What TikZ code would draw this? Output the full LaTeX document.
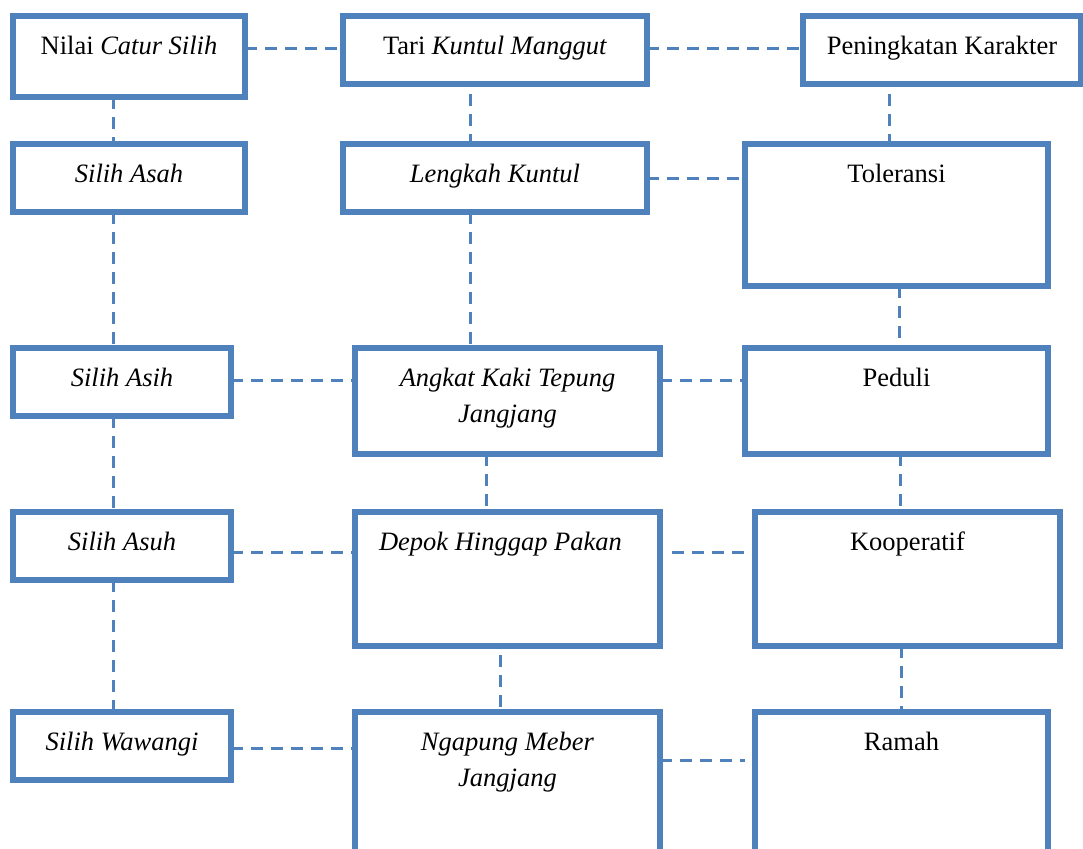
\documentclass[tikz,border=0pt]{standalone}
\usepackage{fontspec}
\setmainfont{Liberation Serif}
\usetikzlibrary{positioning,calc}
\definecolor{KBlue}{RGB}{79,129,189}
\tikzset{
	box/.style 2 args={draw=KBlue,line width=3pt,fill=white,anchor=north west,inner sep=0pt,
		outer sep=0pt,minimum width=#1,minimum height=#2},
	txt/.style={font=\fontsize{13.25pt}{18.3pt}\selectfont,align=center,inner sep=0pt,anchor=base},
	link/.style={draw=KBlue,line width=1.5pt,dash pattern=on 6pt off 4pt},
}
\begin{document}
\begin{tikzpicture}[x=0.5pt,y=-0.5pt]
	\useasboundingbox (0,0) rectangle (1083,848);
	\node[box={116pt}{40.5pt}] (nilai) at (13,16) {};
	\node[box={152pt}{34pt}] (tari) at (343,16) {};
	\node[box={139pt}{34pt}] (karakter) at (803,16) {};
	\node[box={116pt}{34pt}] (asah) at (13,144) {};
	\node[box={152pt}{34pt}] (lengkah) at (343,144) {};
	\node[box={151.5pt}{71pt}] (toleransi) at (745,144) {};
	\node[box={109pt}{34pt}] (asih) at (13,348) {};
	\node[box={152.5pt}{53pt}] (angkat) at (355,348) {};
	\node[box={151.5pt}{53pt}] (peduli) at (745,348) {};
	\node[box={109pt}{34pt}] (asuh) at (13,512) {};
	\node[box={152.5pt}{67pt}] (depok) at (355,512) {};
	\node[box={152.5pt}{67pt}] (kooperatif) at (755,512) {};
	\node[box={109pt}{34pt}] (wawangi) at (13,712) {};
	\node[box={152.5pt}{80pt}] (ngapung) at (355,712) {};
	\node[box={146.5pt}{80pt}] (ramah) at (755,712) {};
	\node[txt] (nilai-t) at ([yshift=-19pt]nilai.north) {Nilai \textit{Catur Silih}};
	\node[txt] (tari-t) at ([yshift=-19pt]tari.north) {Tari \textit{Kuntul Manggut}};
	\node[txt] (karakter-t) at ([yshift=-19pt]karakter.north) {Peningkatan Karakter};
	\node[txt] (asah-t) at ([yshift=-19pt]asah.north) {\textit{Silih Asah}};
	\node[txt] (lengkah-t) at ([yshift=-19pt]lengkah.north) {\textit{Lengkah Kuntul}};
	\node[txt] (toleransi-t) at ([yshift=-19pt]toleransi.north) {Toleransi};
	\node[txt] (asih-t) at ([yshift=-19pt]asih.north) {\textit{Silih Asih}};
	\node[txt] (angkat-t) at ([yshift=-37.3pt]angkat.north) {\textit{Angkat Kaki Tepung}\\\textit{Jangjang}};
	\node[txt] (peduli-t) at ([yshift=-19pt]peduli.north) {Peduli};
	\node[txt] (asuh-t) at ([yshift=-19pt]asuh.north) {\textit{Silih Asuh}};
	\node[txt] (depok-t) at ([xshift=-3.5pt,yshift=-19pt]depok.north) {\textit{Depok Hinggap Pakan}};
	\node[txt] (kooperatif-t) at ([yshift=-19pt]kooperatif.north) {Kooperatif};
	\node[txt] (wawangi-t) at ([yshift=-19pt]wawangi.north) {\textit{Silih Wawangi}};
	\node[txt] (ngapung-t) at ([yshift=-37.3pt]ngapung.north) {\textit{Ngapung Meber}\\\textit{Jangjang}};
	\node[txt] (ramah-t) at ([yshift=-19pt]ramah.north) {Ramah};
	\draw[link] (nilai.east |- 0,48) -- (tari.west |- 0,48);
	\draw[link] (tari.east |- 0,48) -- (karakter.west |- 0,48);
	\draw[link] (113,0 |- nilai.south) -- (113,0 |- asah.north);
	\draw[link,shorten <=5pt] (470,0 |- tari.south) -- (470,0 |- lengkah.north);
	\draw[link,shorten <=5pt] (889,0 |- karakter.south) -- (889,0 |- toleransi.north);
	\draw[link] (lengkah.east |- 0,178) -- (toleransi.west |- 0,178);
	\draw[link] (113,0 |- asah.south) -- (113,0 |- asih.north);
	\draw[link] (470,0 |- lengkah.south) -- (470,0 |- angkat.north);
	\draw[link] (899,0 |- toleransi.south) -- (899,0 |- peduli.north);
	\draw[link] (asih.east |- 0,380) -- (angkat.west |- 0,380);
	\draw[link] (angkat.east |- 0,380) -- (peduli.west |- 0,380);
	\draw[link] (113,0 |- asih.south) -- (113,0 |- asuh.north);
	\draw[link] (486,0 |- angkat.south) -- (486,0 |- depok.north);
	\draw[link] (900,0 |- peduli.south) -- (900,0 |- kooperatif.north);
	\draw[link] (asuh.east |- 0,552) -- (depok.west |- 0,552);
	\draw[link,shorten <=6pt] (depok.east |- 0,552) -- (kooperatif.west |- 0,552);
	\draw[link] (113,0 |- asuh.south) -- (113,0 |- wawangi.north);
	\draw[link,shorten <=4.5pt] (500,0 |- depok.south) -- (500,0 |- ngapung.north);
	\draw[link] (901,0 |- kooperatif.south) -- (901,0 |- ramah.north);
	\draw[link] (wawangi.east |- 0,748) -- (ngapung.west |- 0,748);
	\draw[link,shorten >=5pt] (ngapung.east |- 0,760) -- (ramah.west |- 0,760);
\end{tikzpicture}
\end{document}
